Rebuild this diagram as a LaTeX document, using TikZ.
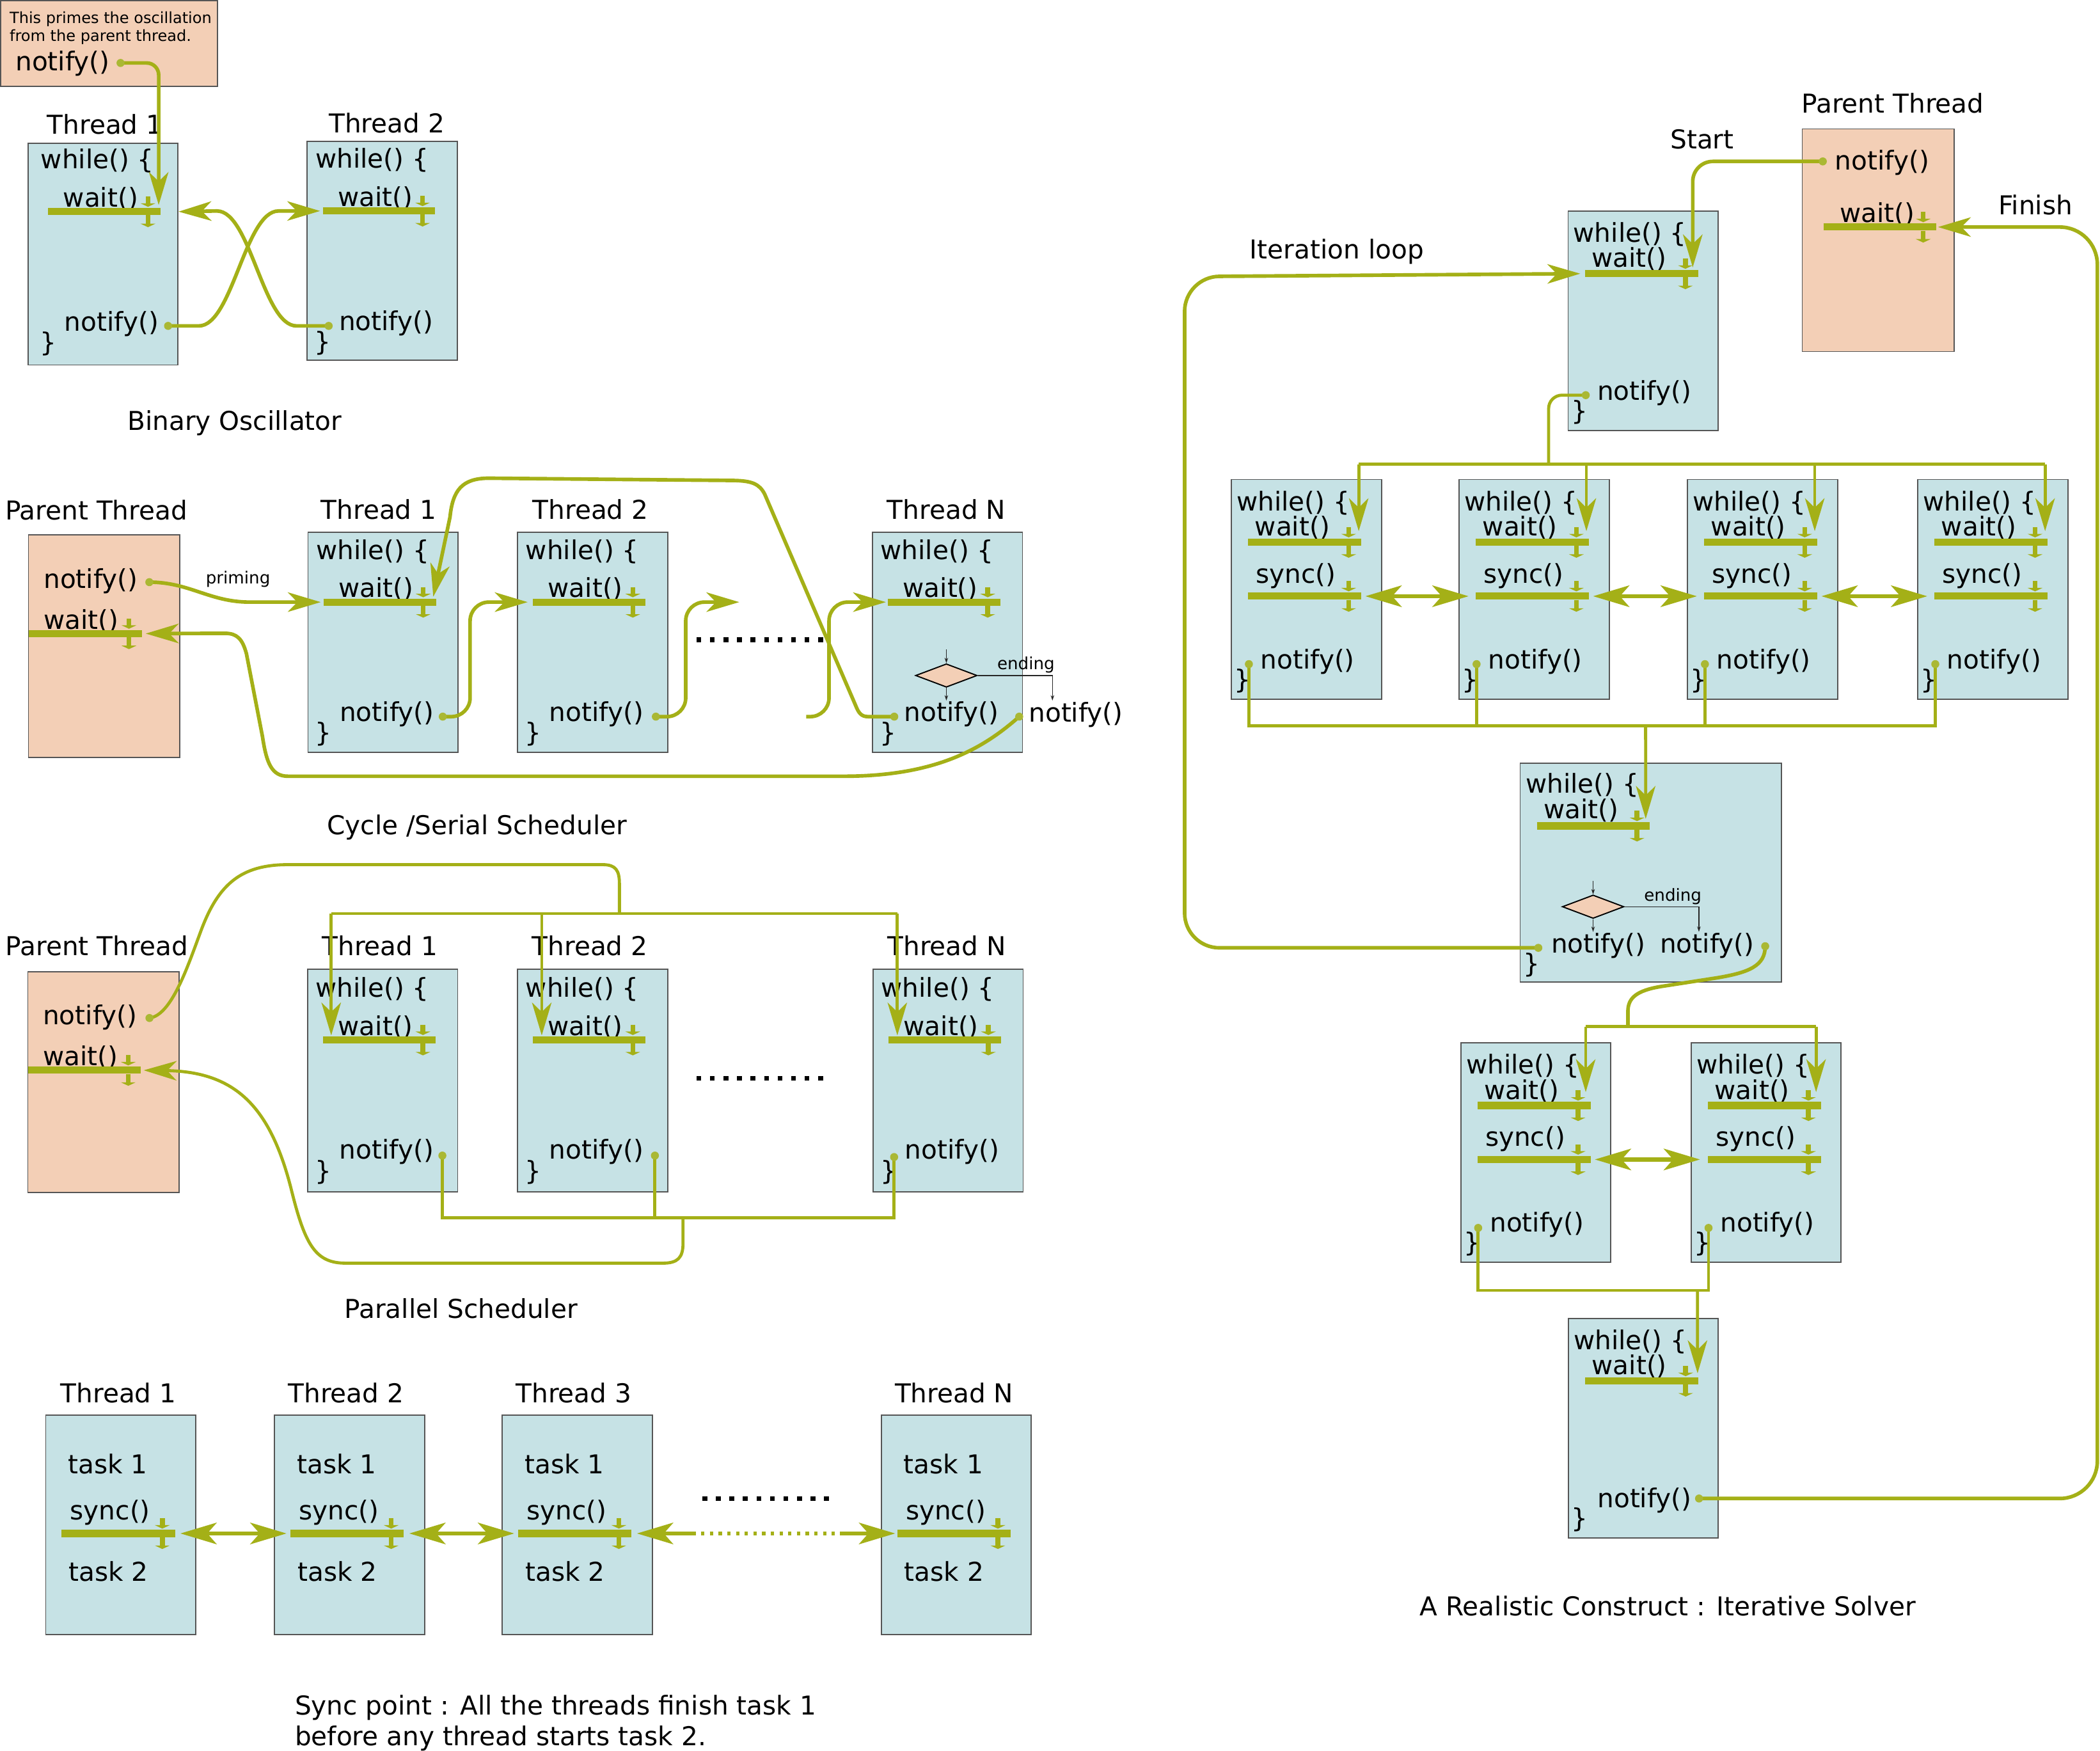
\documentclass[tikz,border=0pt]{standalone}
\usepackage{fontspec}
\setmainfont{DejaVu Sans}
\usetikzlibrary{arrows.meta,calc,shapes.geometric}
\definecolor{lineol}{RGB}{164,176,23}
\definecolor{dotol}{RGB}{170,184,52}
\definecolor{boxblue}{RGB}{198,226,229}
\definecolor{boxpeach}{RGB}{243,207,182}
\definecolor{boxedge}{RGB}{85,85,85}
\newcommand\codef{\fontsize{19.4}{22}\selectfont}
\newcommand\smallf{\fontsize{12.5}{14}\selectfont}
\newcommand\notef{\fontsize{11.5}{13}\selectfont}
\tikzset{
 bigtip/.tip={Stealth[length=24.5pt,width=14.5pt,inset=7pt]},
 dbltip/.tip={Stealth[length=27pt,width=16pt,inset=7pt]},
 tb/.style={draw=boxedge, line width=0.9pt, fill=boxblue, inner sep=0pt, anchor=north west},
 pb/.style={tb, fill=boxpeach},
 code/.style={font=\codef, anchor=base west, inner sep=0pt},
 capt/.style={code},
 smalltxt/.style={font=\smallf, anchor=base west, inner sep=0pt},
 notetxt/.style={font=\notef, anchor=base west, inner sep=0pt},
 wbar/.style={draw=lineol, line width=5.3pt},
 smallarr/.style={draw=lineol, line width=3.6pt, -{Triangle[length=2.6pt,width=11pt]}},
 conn/.style={draw=lineol, line width=2.7pt, -bigtip},
 connplain/.style={draw=lineol, line width=2.7pt},
 treel/.style={draw=lineol, line width=2.3pt},
 treearr/.style={treel, -bigtip},
 dbl/.style={draw=lineol, line width=3.2pt, dbltip-dbltip},
 ndot/.style={circle, fill=dotol, inner sep=0pt, minimum size=6pt},
 dotrow/.style={draw=black, line width=3.4pt, dash pattern=on 3.6pt off 6.5pt},
 dashmid/.style={draw=lineol, line width=3.2pt, dash pattern=on 2.5pt off 4pt},
 thinarr/.style={draw=black!85, line width=0.6pt, -{Stealth[length=4pt,width=2.6pt]}},
 dia/.style={diamond, draw=black, fill=boxpeach, line width=0.9pt, minimum width=46pt, minimum height=17.5pt, inner sep=0pt},
}
% bar with its two small arrows: name, x1, x2, y
\newcommand\waitbar[4]{%
  \coordinate (#1l) at (#2,#4);
  \coordinate (#1r) at (#3,#4);
  \draw[wbar] (#1l) -- (#1r);
  \draw[smallarr] ($(#1r)+(-9.5,-11.3)$) -- ++(0,7.7);
  \draw[smallarr] ($(#1r)+(-9.5,2.7)$) -- ++(0,8.9);
}
% thread box: name, boxX, boxY, boxH, innerX, innerY
\newcommand\thrbx[6]{%
  \node[tb, minimum width=112pt, minimum height=#4pt] (#1) at (#2,#3) {};
  \node[code] (#1w) at (#5+6.3,#6+20.5) {while() \{};
  \node[code] (#1t) at (#5+23,#6+49) {wait()};
  \node[code] (#1n) at (#5+24,#6+141.5) {notify()};
  \node[code] (#1c) at (#5+5.6,#6+157) {\}};
  \waitbar{#1b}{#5+12}{#5+96}{#6+52.5}%
}
% parent box: name, X, Y, H
\newcommand\pthr[4]{%
  \node[pb, minimum width=113pt, minimum height=#4pt] (#1) at (#2,#3) {};
  \node[code] (#1n) at (#2+11.6,#3+40) {notify()};
  \node[code] (#1t) at (#2+11.6,#3+70.5) {wait()};
  \waitbar{#1b}{#2+0.5}{#2+85}{#3+74}%
}
% sync box: name, X, Y
\newcommand\syncthr[3]{%
  \node[tb, minimum width=112pt, minimum height=164pt] (#1) at (#2,#3) {};
  \node[code] (#1a) at (#2+17,#3+44) {task 1};
  \node[code] (#1s) at (#2+18.5,#3+78.7) {sync()};
  \node[code] (#1z) at (#2+17.5,#3+124.6) {task 2};
  \waitbar{#1b}{#2+12.3}{#2+97}{#3+88.8}%
}
% solver box: name, X, Y, sync flag
\newcommand\solthr[4]{%
  \node[tb, minimum width=112pt, minimum height=164pt] (#1) at (#2,#3) {};
  \node[code] (#1w) at (#2+4.2,#3+23.8) {while() \{};
  \node[code] (#1t) at (#2+17.8,#3+42.6) {wait()};
  \waitbar{#1b}{#2+13}{#2+97.5}{#3+47.3}%
  \ifnum#4=1
    \node[code] (#1s) at (#2+18.5,#3+77.6) {sync()};
    \waitbar{#1s}{#2+13}{#2+97.5}{#3+87.6}%
  \fi
  \node[code] (#1n) at (#2+22,#3+141.6) {notify()};
  \node[code] (#1c) at (#2+2.5,#3+156.6) {\}};
}
\begin{document}
\begin{tikzpicture}[x=1pt,y=-1pt]
\useasboundingbox (0,0) rectangle (1568,1307);
\fill[white] (0,0) rectangle (1568,1307);

%================ Binary oscillator
\node[pb, minimum width=162pt, minimum height=64pt] (note) at (0,0) {};
\node[notetxt] (nt1) at (7,17.3) {This primes the oscillation};
\node[notetxt] (nt2) at (7,31) {from the parent thread.};
\node[code] (ntn) at (11.4,53) {notify()};
\coordinate (d0) at (90,47);
\node[code] (l1a) at (35,100) {Thread 1};
\node[code] (l1b) at (245.4,99) {Thread 2};
\thrbx{A1}{20.4}{106.6}{165.4}{24}{105.5}
\thrbx{A2}{229}{105}{163.6}{229}{105}
\coordinate (d1) at (125.5,243.3);
\coordinate (d2) at (245.4,243.3);
\draw[conn, rounded corners=9] (d0) -| ($(A1br)+(-1.5,-5)$);
\draw[conn] (d1) -- ++(23,0) .. controls +(25,0) and +(-25,0) .. ($(A2bl)+(-33,0)$) -- ($(A2bl)+(-2,0)$);
\draw[conn] (d2) -- ++(-24,0) .. controls +(-25,0) and +(25,0) .. (162,157.5) -- (A1.east |- A1bl);
\node[capt] (cap1) at (95,321) {Binary Oscillator};

%================ Cycle / serial scheduler
\node[code] (l2p) at (3.7,388) {Parent Thread};
\node[code] (l2a) at (239.4,387.5) {Thread 1};
\node[code] (l2b) at (397.5,387.5) {Thread 2};
\node[code] (l2n) at (662.2,387.5) {Thread N};
\pthr{P2}{20.8}{399}{166}
\thrbx{C1}{229.5}{397}{164}{229.5}{397}
\thrbx{C2}{386}{397}{164}{386}{397}
\thrbx{C3}{651}{397}{164}{651}{397}
\node[dia] (cdia) at (706.6,504.3) {};
\coordinate (cdt) at (706.6,485);
\coordinate (cdb) at (706.6,523);
\coordinate (cde) at (785.8,523);
\draw[thinarr] (cdt) -- (cdia.north);
\draw[thinarr] (cdia.south) -- (cdb);
\draw[thinarr] (cdia.east) -| (cde);
\node[smalltxt] (cend) at (744.4,499.8) {ending};
\node[code] (cno) at (768,538.8) {notify()};
\node[smalltxt] (prim) at (153.5,436) {priming};
\coordinate (pd2n) at (111.5,434.6);
\coordinate (cd1) at (330.6,535);
\coordinate (cd2) at (489.7,535);
\coordinate (cd3i) at (667.7,535);
\coordinate (cd3o) at (761,535);
\coordinate (cfree) at (602,535);
\coordinate (cvoid) at (552,449.5);
\draw[conn] (pd2n) .. controls +(30,0) and +(-30,0) .. ($(C1bl)+(-55,0)$) -- ($(C1bl)+(-2,0)$);
\draw[conn, rounded corners=14] (cd1) -- (351,535) -- (351,449.5) -- ($(C2bl)+(-4,0)$);
\draw[conn, rounded corners=14] (cd2) -- (512,535) -- (512,449.5) -- (cvoid);
\draw[conn, rounded corners=14] (cfree) -- (619,535) -- (619,449.5) -- ($(C3bl)+(-1.5,0)$);
\draw[conn] (cd3i) -- (648,535) .. controls (643,535) and (641,532) .. (639,527) -- (571,369) .. controls (567,361) and (561,359) .. (548,358.7) -- (365,357) .. controls (345,357) and (338,366) .. (336,386) -- ($(C1br)+(-2,-4)$);
\draw[conn] (cd3o) .. controls (735,558) and (700,579.5) .. (630,579.5) -- (215,579.5) .. controls (203,579.5) and (199,570) .. (196,550) -- (184,488) .. controls (181,477) and (177,472.8) .. (168,472.8) -- ($(P2br)+(3,0)$);
\draw[dotrow] (520,477.6) -- (617,477.6);
\node[capt] (cap2) at (244,623) {Cycle /Serial Scheduler};

%================ Parallel scheduler
\node[code] (l3p) at (4,713.5) {Parent Thread};
\node[code] (l3a) at (240.3,713.5) {Thread 1};
\node[code] (l3b) at (397,713.5) {Thread 2};
\node[code] (l3n) at (662.5,713.5) {Thread N};
\pthr{P3}{20.3}{725}{165}
\thrbx{Q1}{229.3}{723}{166.5}{229.3}{723.8}
\thrbx{Q2}{386}{723}{166.5}{386}{723.8}
\thrbx{Q3}{651.5}{723}{166.5}{651.5}{723.8}
\coordinate (p3d) at (111.6,760);
\coordinate (q1d) at (330.3,862.7);
\coordinate (q2d) at (489,862.7);
\coordinate (q3d) at (667.6,863.8);
\coordinate (qtop) at (462.5,682);
\coordinate (qbot) at (510,909);
\coordinate (q1tip) at ($(Q1bl)+(6,-3.3)$);
\coordinate (q2tip) at ($(Q2bl)+(6.5,-3.3)$);
\coordinate (q3tip) at ($(Q3bl)+(6.5,-3.3)$);
\draw[treel] (q1tip |- qtop) -- (q3tip |- qtop);
\draw[treearr] (q1tip |- qtop) -- (q1tip);
\draw[treearr] (q2tip |- qtop) -- (q2tip);
\draw[treearr] (q3tip |- qtop) -- (q3tip);
\draw[treel] (p3d) .. controls (128,758) and (140,722) .. (150,695) .. controls (163,660) and (180,645.5) .. (215,645.5) -- (450,645.5) .. controls (460,645.5) and (462.5,650) .. (462.5,660) -- (qtop);
\draw[treel] (q1d) -- (q1d |- qbot) -- (q3d |- qbot) -- (q3d);
\draw[treel] (q2d) -- (q2d |- qbot);
\draw[treearr] (qbot) -- (510,928) .. controls (510,939) and (506,943) .. (495,943) -- (258,943) .. controls (236,943) and (228,930) .. (218,890) .. controls (202,825) and (175,800) .. ($(P3br)+(2,0)$);
\draw[dotrow] (520,805) -- (617,805);
\node[capt] (cap3) at (257,984) {Parallel Scheduler};

%================ Sync point
\node[code] (l4a) at (45,1047) {Thread 1};
\node[code] (l4b) at (215,1047) {Thread 2};
\node[code] (l4c) at (385,1047) {Thread 3};
\node[code] (l4n) at (668,1047) {Thread N};
\syncthr{S1}{33.7}{1056}
\syncthr{S2}{204.6}{1056}
\syncthr{S3}{374.6}{1056}
\syncthr{S4}{657.6}{1056}
\draw[dbl] ($(S1br)+(4,0)$) -- ($(S2bl)+(-3,0)$);
\draw[dbl] ($(S2br)+(4,0)$) -- ($(S3bl)+(-3,0)$);
\coordinate (sm1) at (517,1144.8);
\coordinate (sm2) at (627,1144.8);
\draw[draw=lineol, line width=3.2pt, dbltip-] ($(S3br)+(4,0)$) -- (sm1);
\draw[dashmid] (sm1) -- (sm2);
\draw[draw=lineol, line width=3.2pt, -dbltip] (sm2) -- ($(S4bl)+(-1.5,0)$);
\draw[dotrow] (524.4,1118.6) -- (621,1118.6);
\node[capt] (cap4a) at (220,1280) {Sync point : All the threads finish task 1};
\node[capt] (cap4b) at (220,1303) {before any thread starts task 2.};

%================ Iterative solver
\node[code] (l5p) at (1345,84.5) {Parent Thread};
\node[code] (l5s) at (1247,111) {Start};
\node[code] (l5f) at (1492,160.4) {Finish};
\node[code] (l5i) at (933,193.3) {Iteration loop};
\node[pb, minimum width=113.4pt, minimum height=166.2pt] (R0) at (1345.2,95.8) {};
\node[code] (R0n) at (1370,126.6) {notify()};
\node[code] (R0t) at (1373.6,165.9) {wait()};
\waitbar{R0b}{1361.5}{1445.5}{169.5}
\coordinate (r0d) at (1361,120.5);
\solthr{RA}{1170.4}{157}{0}
\solthr{RBa}{919}{357.5}{1}
\solthr{RBb}{1089}{357.5}{1}
\solthr{RBc}{1259.5}{357.5}{1}
\solthr{RBd}{1431.5}{357.5}{1}
\solthr{RCa}{1090.3}{778}{1}
\solthr{RCb}{1262.3}{778}{1}
\solthr{RD}{1170.6}{983.7}{0}
% big check box
\node[tb, minimum width=195pt, minimum height=163.2pt] (RE) at (1134.6,569.4) {};
\node[code] (REw) at (1139,592) {while() \{};
\node[code] (REt) at (1152.5,611.3) {wait()};
\waitbar{REb}{1147.5}{1231.8}{616.6}
\node[dia] (redia) at (1189.5,676.9) {};
\coordinate (ret) at (1189.5,657.5);
\coordinate (reb) at (1189.5,695.7);
\coordinate (ree) at (1268.5,695.7);
\draw[thinarr] (ret) -- (redia.north);
\draw[thinarr] (redia.south) -- (reb);
\draw[thinarr] (redia.east) -| (ree);
\node[smalltxt] (REe) at (1227.4,672.6) {ending};
\node[code] (REn) at (1158,711.6) {notify()};
\node[code] (REo) at (1239.3,711.6) {notify()};
\node[code] (REc) at (1137.4,726) {\}};
% dots
\coordinate (rad) at (1184,295);
\coordinate (rb1d) at (932.5,495.8);
\coordinate (rb2d) at (1102.5,495.8);
\coordinate (rb3d) at (1273,495.8);
\coordinate (rb4d) at (1445,495.8);
\coordinate (rei) at (1148.6,707.6);
\coordinate (reo) at (1318,706.4);
\coordinate (rc1d) at (1103.7,916.7);
\coordinate (rc2d) at (1275.7,916.7);
\coordinate (rdd) at (1268.6,1118.7);
% start / finish / loop
\draw[conn, rounded corners=15] (r0d) -| ($(RAbr)+(-4,-4.7)$);
\draw[conn, rounded corners=28] (rdd) -- (1566,1118.7) -- (1566,169.5) -- ($(R0br)+(1.5,0)$);
\draw[conn, rounded corners=26] (rei) -- (884.5,707.6) -- (884.5,206.5) -- ($(RAbl)+(-3.5,0)$);
% fan-out to B row
\coordinate (rtop) at (1156.3,346.5);
\coordinate (rb1tip) at ($(RBabr)+(-2,-8.3)$);
\coordinate (rb2tip) at ($(RBbbr)+(-2,-8.3)$);
\coordinate (rb3tip) at ($(RBcbr)+(-2,-8.3)$);
\coordinate (rb4tip) at ($(RBdbr)+(-2,-8.3)$);
\draw[treel, rounded corners=10] (rad) -| (rtop);
\draw[treel] (rb1tip |- rtop) -- (rb4tip |- rtop);
\draw[treearr] (rb1tip |- rtop) -- (rb1tip);
\draw[treearr] (rb2tip |- rtop) -- (rb2tip);
\draw[treearr] (rb3tip |- rtop) -- (rb3tip);
\draw[treearr] (rb4tip |- rtop) -- (rb4tip);
\draw[dbl] ($(RBasr)+(3,0)$) -- ($(RBbsl)+(-5.5,0)$);
\draw[dbl] ($(RBbsr)+(3,0)$) -- ($(RBcsl)+(-5.5,0)$);
\draw[dbl] ($(RBcsr)+(3,0)$) -- ($(RBdsl)+(-5.5,0)$);
% collect B row
\coordinate (rbot) at (1228.7,542);
\draw[treel] (rb1d) -- (rb1d |- rbot) -- (rb4d |- rbot) -- (rb4d);
\draw[treel] (rb2d) -- (rb2d |- rbot);
\draw[treel] (rb3d) -- (rb3d |- rbot);
\draw[treearr] (rbot) -- ($(REbr)+(-3,-5.3)$);
% to C row
\coordinate (rctop) at (1215.5,766.5);
\coordinate (rc1tip) at ($(RCabr)+(-3.8,-10)$);
\coordinate (rc2tip) at ($(RCbbr)+(-3.8,-10)$);
\draw[connplain] (reo) .. controls (1318,721) and (1306,726) .. (1282,730) -- (1240,736.5) .. controls (1222,739.5) and (1215.5,745) .. (1215.5,755) -- (rctop);
\draw[treel] (rc1tip |- rctop) -- (rc2tip |- rctop);
\draw[treearr] (rc1tip |- rctop) -- (rc1tip);
\draw[treearr] (rc2tip |- rctop) -- (rc2tip);
\draw[dbl] ($(RCasr)+(3,0)$) -- ($(RCbsl)+(-6,0)$);
\coordinate (rcbot) at (1267.4,963.3);
\draw[treel] (rc1d) -- (rc1d |- rcbot) -- (rc2d |- rcbot) -- (rc2d);
\draw[treearr] (rcbot) -- ($(RDbr)+(-0.6,-5.8)$);
\node[capt] (cap5) at (1060,1206) {A Realistic Construct : Iterative Solver};

%================ dots on top
\foreach \p in {d0,d1,d2,pd2n,cd1,cd2,cd3i,cd3o,p3d,q1d,q2d,q3d,r0d,rad,rb1d,rb2d,rb3d,rb4d,rei,reo,rc1d,rc2d,rdd}
  \node[ndot] (dot-\p) at (\p) {};
\end{tikzpicture}
\end{document}
